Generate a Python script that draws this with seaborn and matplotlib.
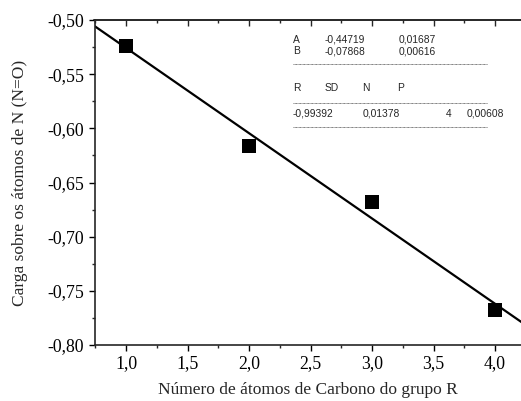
import numpy as np
import pandas as pd
import matplotlib
matplotlib.use('Agg')
import matplotlib.pyplot as plt
from matplotlib.ticker import MultipleLocator, FuncFormatter
import seaborn as sns

# --- data ---
carbonos = [1.0, 2.0, 3.0, 4.0]
carga = [-0.524, -0.616, -0.668, -0.768]

# linear fit reported in the inset table
fit_A = -0.44719
fit_B = -0.07868
fit_rows = [['A', '-0,44719', '0,01687'],
            ['B', '-0,07868', '0,00616']]
stat_head = ['R', 'SD', 'N', 'P']
stat_vals = ['-0,99392', '0,01378', '4', '0,00608']

df = pd.DataFrame({'x': carbonos, 'y': carga})

sns.set_style('ticks')
plt.rcParams['font.family'] = ['Liberation Serif', 'DejaVu Serif']

W, H = 521, 401
fig = plt.figure(figsize=(W / 100, H / 100), dpi=100)
ax = fig.add_axes([94.5 / W, 1 - 345 / H, 1 - 94.5 / W + 0.002, (345 - 20) / H])

sns.scatterplot(data=df, x='x', y='y', marker='s', s=100, color='black',
                edgecolor='black', linewidth=0, ax=ax, zorder=3)
ax.axline((0, fit_A), slope=fit_B, color='black', lw=1.6, zorder=2)

ax.set_xlim(0.742, 4.22)
ax.set_ylim(-0.80, -0.50)
ax.xaxis.set_major_locator(MultipleLocator(0.5))
ax.xaxis.set_minor_locator(MultipleLocator(0.25))
ax.yaxis.set_major_locator(MultipleLocator(0.05))
ax.yaxis.set_minor_locator(MultipleLocator(0.025))
ax.xaxis.set_major_formatter(FuncFormatter(lambda v, p: f'{v:.1f}'.replace('.', ',')))
ax.yaxis.set_major_formatter(FuncFormatter(lambda v, p: f'{v:.2f}'.replace('.', ',')))

for s in ['left', 'bottom', 'top']:
    ax.spines[s].set_linewidth(1.2)
    ax.spines[s].set_visible(True)
ax.spines['right'].set_visible(False)
ax.tick_params(which='major', direction='out', length=4.5, width=1, labelsize=12.8,
               colors='black', pad=3)
ax.tick_params(which='minor', direction='out', length=2.5, width=1)
# top ticks point into the plot
ax_top = ax.secondary_xaxis('top')
ax_top.xaxis.set_major_locator(MultipleLocator(0.5))
ax_top.xaxis.set_minor_locator(MultipleLocator(0.25))
ax_top.tick_params(which='major', direction='in', length=4.5, width=1, labeltop=False)
ax_top.tick_params(which='minor', direction='in', length=2.5, width=1)
ax_top.spines['top'].set_linewidth(1.2)

ax.set_xlabel('Número de átomos de Carbono do grupo R', fontsize=12.5, labelpad=7)
ax.set_ylabel('Carga sobre os átomos de N (N=O)', fontsize=12.5, labelpad=14)

# --- inset fit table ---
def px(x, y):
    return x / W, 1 - y / H

tkw = dict(fontsize=7.4, family=['Liberation Sans', 'DejaVu Sans'], va='center', ha='left')
cols = [293, 325, 399]
for row, yy in zip(fit_rows, [40, 51]):
    for txt, xx in zip(row, cols):
        fig.text(*px(xx, yy), txt, **tkw)
for txt, xx in zip(stat_head, [293, 325, 362, 397]):
    fig.text(*px(xx, 88), txt, **tkw)
for txt, xx in zip(stat_vals, [293, 363, 446, 467]):
    fig.text(*px(xx, 114), txt, **tkw)
for yy in [64, 103, 127]:
    x0, y0 = px(293, yy)
    x1, _ = px(487, yy)
    fig.add_artist(plt.Line2D([x0, x1], [y0, y0], transform=fig.transFigure,
                              color='#555555', lw=0.6, ls=(0, (1, 0.6))))

fig.savefig('out.png', dpi=100)
